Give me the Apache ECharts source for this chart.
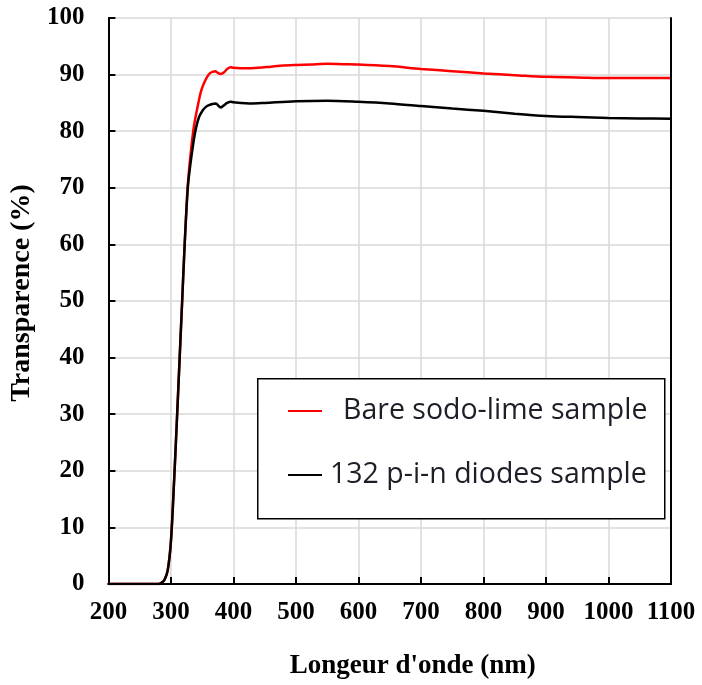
<!DOCTYPE html>
<html><head><meta charset="utf-8">
<script src="https://cdn.jsdelivr.net/npm/echarts@6/dist/echarts.min.js"></script>
<style>html,body{margin:0;padding:0;background:#fff}#c{width:702px;height:685px}</style>
</head><body><div id="c"></div>
<script>
const seriesNames = ['Bare sodo-lime sample', '132 p-i-n diodes sample'];
const wavelengthsRed = [200,250,280,285,290,295,300,305,310,314,318,322,327,332,337,343,348,353,358,363,367,371,375,380,385,390,396,400,420,440,460,480,500,525,550,575,600,650,700,750,800,850,900,950,1000,1050,1100];
const bareSodoLime = [0,0,0,0.2,0.8,2.5,7.5,18,30,40,50,60,70.5,76.5,81,84.5,87,88.5,89.6,90.3,90.5,90.6,90.3,90.1,90.4,91.0,91.3,91.2,91.1,91.2,91.4,91.6,91.7,91.8,91.9,91.85,91.8,91.5,91.0,90.6,90.2,89.9,89.6,89.5,89.4,89.4,89.4];
const wavelengthsBlack = [200,250,280,285,290,295,300,305,310,314,318,322,327,331,336,340,345,351,356,361,366,372,376,380,385,390,396,400,430,450,500,550,600,650,700,750,800,850,900,950,1000,1050,1100];
const pinDiodes = [0,0,0,0.2,0.8,2.5,7.5,18,30,40,50,60,70,74,78,80.5,82.5,83.7,84.3,84.6,84.8,84.9,84.5,84.2,84.6,85.0,85.2,85.1,84.9,85.0,85.3,85.4,85.2,84.9,84.45,84.0,83.6,83.1,82.7,82.5,82.35,82.25,82.2];
const xTicks = {min:200, max:1100, interval:100};
const yTicks = {min:0, max:100, interval:10};

const chart = echarts.init(document.getElementById('c'), null, {renderer:'canvas'});
const axisFont = {fontFamily:'Liberation Serif', fontWeight:'bold', fontSize:25, color:'#000'};
const titleFont = {fontFamily:'Liberation Serif', fontWeight:'bold', fontSize:27, color:'#000'};
const frameAxis = {show:true, axisLine:{show:true, lineStyle:{color:'#000', width:2}}, axisTick:{show:false}, axisLabel:{show:false}, splitLine:{show:false}, z:5};
chart.setOption({
  animation:false,
  backgroundColor:'#fff',
  grid:{left:107, top:18, right:31, bottom:101},
  xAxis:[{type:'value', min:xTicks.min, max:xTicks.max, interval:xTicks.interval,
    name:'Longeur d\'onde (nm)', nameLocation:'middle', nameGap:69,
    nameTextStyle:Object.assign({padding:[0,0,0,46]}, titleFont),
    axisLine:{lineStyle:{color:'#000', width:2}},
    axisTick:{inside:true, length:7, lineStyle:{color:'#000', width:2}},
    axisLabel:Object.assign({margin:16, formatter:v=>String(v)}, axisFont),
    splitLine:{show:true, lineStyle:{color:'#d9d9d9', width:1.5}}},
    Object.assign({type:'value', position:'top', min:xTicks.min, max:xTicks.max}, frameAxis)],
  yAxis:[{type:'value', min:yTicks.min, max:yTicks.max, interval:yTicks.interval,
    name:'Transparence (%)', nameLocation:'middle', nameGap:58,
    nameTextStyle:Object.assign({padding:[0,0,0,16]}, titleFont, {fontSize:28}),
    axisLine:{lineStyle:{color:'#000', width:2}},
    axisTick:{inside:true, length:7, lineStyle:{color:'#000', width:2}},
    axisLabel:Object.assign({margin:24, formatter:v=>String(v)}, axisFont),
    splitLine:{show:true, lineStyle:{color:'#d9d9d9', width:1.5}}},
    Object.assign({type:'value', position:'right', min:yTicks.min, max:yTicks.max}, frameAxis)],
  legend:{left:283, top:388, orient:'vertical', itemGap:28, itemWidth:34, itemHeight:2, z:20,
    textStyle:{fontFamily:'Open Sans', fontSize:28.5, color:'#1e1e28', lineHeight:36},
    data:[
      {name:seriesNames[0], icon:'rect', textStyle:{padding:[0,0,0,16]}},
      {name:seriesNames[1], icon:'rect', textStyle:{padding:[0,0,0,3]}}
    ]},
  graphic:[{type:'rect', left:257, top:378, shape:{width:407, height:140}, style:{fill:'#fff', stroke:'#000', lineWidth:1.5}, z:10}],
  series:[
    {name:seriesNames[0], type:'line', showSymbol:false, smooth:0.3, color:'#ff0000', lineStyle:{width:2.5, color:'#ff0000'},
      data:wavelengthsRed.map((w,i)=>[w, bareSodoLime[i]])},
    {name:seriesNames[1], type:'line', showSymbol:false, smooth:0.3, color:'#000', lineStyle:{width:2.5, color:'#000'},
      data:wavelengthsBlack.map((w,i)=>[w, pinDiodes[i]])}
  ]
});
</script></body></html>
